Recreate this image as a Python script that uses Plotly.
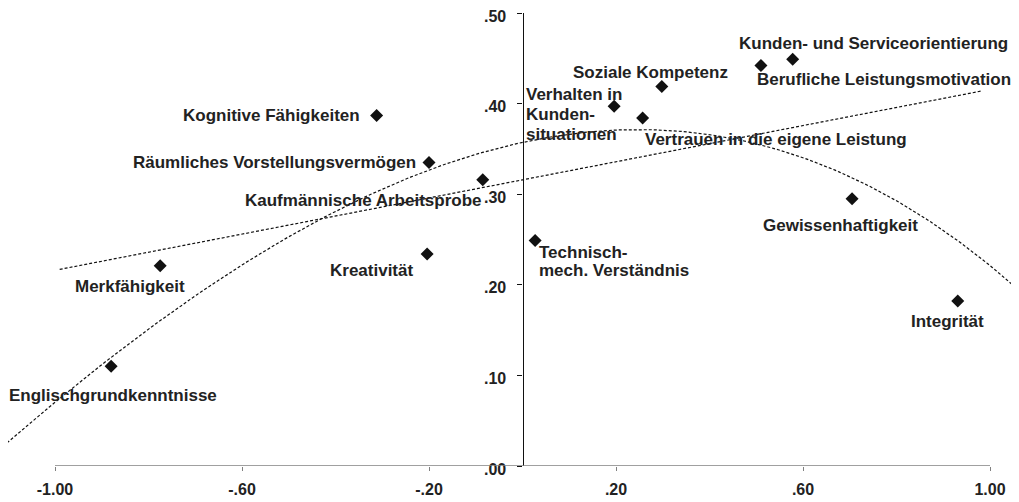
import numpy as np
import plotly.graph_objects as go

# ---- data ----
labels = [
    "Englischgrundkenntnisse",
    "Merkfähigkeit",
    "Kognitive Fähigkeiten",
    "Räumliches Vorstellungsvermögen",
    "Kaufmännische Arbeitsprobe",
    "Kreativität",
    "Technisch-\nmech. Verständnis",
    "Verhalten in\nKunden-\nsituationen",
    "Vertrauen in die eigene Leistung",
    "Soziale Kompetenz",
    "Berufliche Leistungsmotivation",
    "Kunden- und Serviceorientierung",
    "Gewissenhaftigkeit",
    "Integrität",
]
x_vals = [-0.880, -0.775, -0.312, -0.200, -0.085, -0.204, 0.027,
          0.196, 0.257, 0.298, 0.510, 0.578, 0.705, 0.931]
y_vals = [0.110, 0.221, 0.387, 0.335, 0.316, 0.234, 0.249,
          0.397, 0.384, 0.419, 0.442, 0.449, 0.295, 0.182]

x_tick_vals = [-1.0, -0.6, -0.2, 0.2, 0.6, 1.0]
x_tick_text = ["-1.00", "-.60", "-.20", ".20", ".60", "1.00"]
y_tick_vals = [0.0, 0.1, 0.2, 0.3, 0.4, 0.5]
y_tick_text = [".00", ".10", ".20", ".30", ".40", ".50"]

# linear trend line: end points
trend_lin_x = [-0.99, 0.983]
trend_lin_y = [0.217, 0.414]
# curved trend line: points
trend_curve_x = [-1.111, -0.88, -0.54, -0.35, -0.20, 0.0, 0.20, 0.257, 0.437, 0.70, 0.979, 1.06]
trend_curve_y = [0.029, 0.109, 0.238, 0.294, 0.334, 0.357, 0.374, 0.374, 0.363, 0.308, 0.227, 0.202]

# ---- label placement (styling: anchor, pixel shifts, line gap) ----
label_style = {
    "Englischgrundkenntnisse": ("center", 2, -29, 0),
    "Merkfähigkeit": ("center", -30, -21, 0),
    "Kognitive Fähigkeiten": ("right", -17, 0, 0),
    "Räumliches Vorstellungsvermögen": ("right", -13, 0, 0),
    "Kaufmännische Arbeitsprobe": ("right", -2, -21, 0),
    "Kreativität": ("right", -14, -16, 0),
    "Technisch-\nmech. Verständnis": ("left", 4, -12, 18),
    "Verhalten in\nKunden-\nsituationen": ("left", -88, 12, 20),
    "Vertrauen in die eigene Leistung": ("left", 2, -21, 0),
    "Soziale Kompetenz": ("right", 66, 14, 0),
    "Berufliche Leistungsmotivation": ("left", -4, -14, 0),
    "Kunden- und Serviceorientierung": ("left", -54, 16, 0),
    "Gewissenhaftigkeit": ("center", -12, -27, 0),
    "Integrität": ("center", -10, -20, 0),
}

FONT = "Liberation Sans, Arial, sans-serif"

cx = np.array(trend_curve_x)
cy = np.array(trend_curve_y)
curve_coef = np.polyfit(cx, cy, 3)
xq = np.linspace(cx.min(), cx.max(), 200)

fig = go.Figure()
fig.add_trace(go.Scatter(x=trend_lin_x, y=trend_lin_y, mode="lines",
                         line=dict(color="#111111", width=1.2, dash="3px,2px"),
                         hoverinfo="skip", showlegend=False))
fig.add_trace(go.Scatter(x=xq, y=np.polyval(curve_coef, xq), mode="lines",
                         line=dict(color="#111111", width=1.2, dash="3px,2px"),
                         hoverinfo="skip", showlegend=False))
fig.add_trace(go.Scatter(x=x_vals, y=y_vals, mode="markers",
                         marker=dict(symbol="diamond", size=10, color="#111111"),
                         cliponaxis=False, showlegend=False, text=labels))

for lab, xv, yv in zip(labels, x_vals, y_vals):
    anchor, dx, dy, gap = label_style[lab]
    for i, line in enumerate(lab.split("\n")):
        fig.add_annotation(x=xv, y=yv, xref="x", yref="y", text=line,
                           showarrow=False, xanchor=anchor, yanchor="middle",
                           xshift=dx, yshift=dy - i * gap, align="left",
                           borderpad=0, borderwidth=0,
                           font=dict(family=FONT, size=17, color="#222222", weight="bold"))

# x axis line (spans -1 .. 1 only)
fig.add_shape(type="line", xref="x", yref="y", x0=-1.0, x1=1.0, y0=0, y1=0,
              line=dict(color="#808080", width=1.5))

W, H = 1011, 494
xmin = -514.5 / 467.5
xmax = (W - 514.5) / 467.5
ypos = (0 - xmin) / (xmax - xmin)

fig.update_layout(
    width=W, height=H,
    margin=dict(l=0, r=0, t=5, b=36, autoexpand=False),
    paper_bgcolor="white", plot_bgcolor="white",
    showlegend=False,
    xaxis=dict(range=[xmin, xmax], showgrid=False, zeroline=False, showline=False,
               automargin=False,
               tickvals=x_tick_vals, ticktext=x_tick_text, ticks="outside",
               ticklen=4, tickcolor="#808080", tickwidth=1, ticklabelstandoff=5,
               ticklabeloverflow="allow",
               tickfont=dict(family=FONT, size=16, color="#222222", weight="bold")),
    yaxis=dict(range=[0, 0.5], showgrid=False, zeroline=False, showline=True,
               automargin=False,
               linecolor="#111111", linewidth=1.2, anchor="free", position=ypos,
               tickvals=y_tick_vals, ticktext=y_tick_text, ticks="outside",
               ticklen=5, tickcolor="#111111", tickwidth=1.2, ticklabelstandoff=8,
               ticklabelshift=3, ticklabeloverflow="allow",
               tickfont=dict(family=FONT, size=16, color="#222222", weight="bold")),
)

fig.write_html("out.html")
